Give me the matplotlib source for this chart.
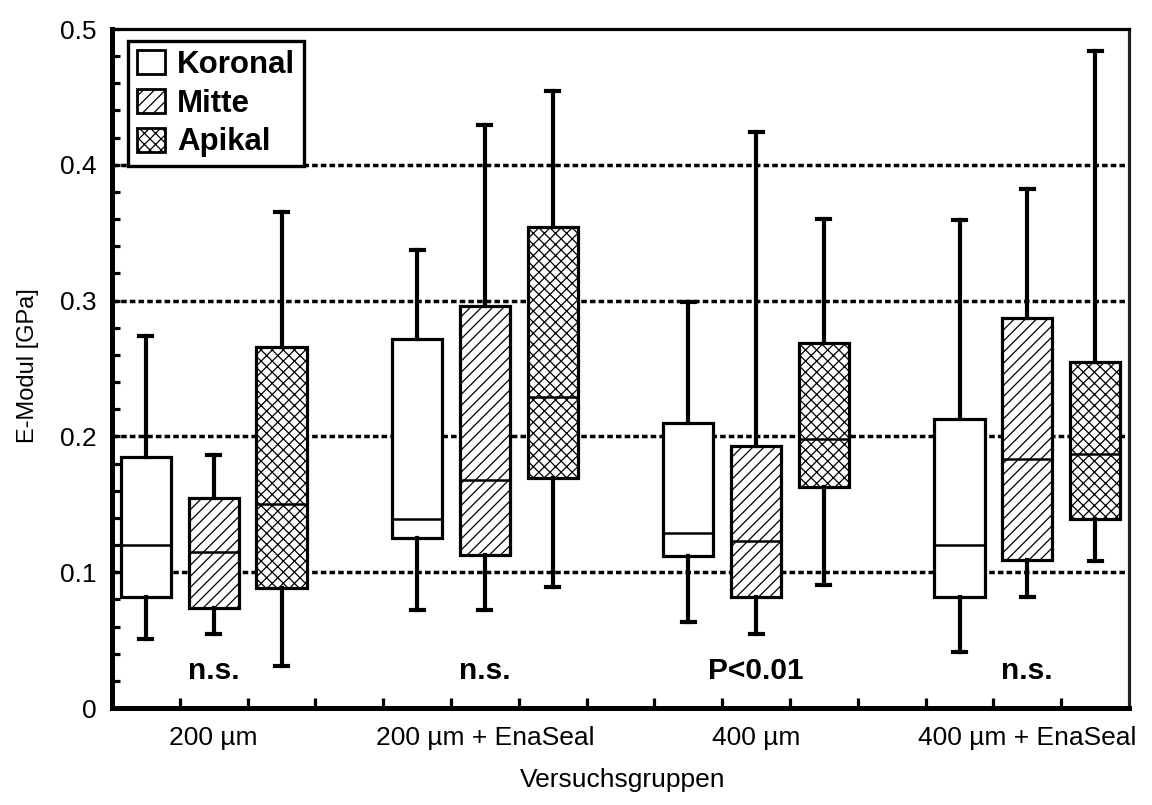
import matplotlib
matplotlib.use("Agg")
import matplotlib.pyplot as plt
from matplotlib.patches import Patch
from matplotlib.ticker import FixedLocator, MultipleLocator

plt.rcParams['font.family'] = ['Liberation Sans', 'DejaVu Sans']
plt.rcParams['hatch.linewidth'] = 0.9

# ---- data ----
groups = ["200 µm", "200 µm + EnaSeal", "400 µm", "400 µm + EnaSeal"]
regions = ["Koronal", "Mitte", "Apikal"]
significance = ["n.s.", "n.s.", "P<0.01", "n.s."]

koronal_whishi = [0.274, 0.337, 0.299, 0.359]
koronal_q3 = [0.185, 0.2715, 0.210, 0.213]
koronal_med = [0.120, 0.139, 0.129, 0.120]
koronal_q1 = [0.082, 0.125, 0.112, 0.082]
koronal_whislo = [0.051, 0.072, 0.0635, 0.041]

mitte_whishi = [0.186, 0.429, 0.424, 0.382]
mitte_q3 = [0.155, 0.296, 0.193, 0.2875]
mitte_med = [0.115, 0.168, 0.123, 0.183]
mitte_q1 = [0.0734, 0.113, 0.082, 0.109]
mitte_whislo = [0.0545, 0.072, 0.0546, 0.0817]

apikal_whishi = [0.3655, 0.454, 0.360, 0.484]
apikal_q3 = [0.266, 0.3545, 0.269, 0.255]
apikal_med = [0.1505, 0.229, 0.198, 0.187]
apikal_q1 = [0.0887, 0.169, 0.163, 0.139]
apikal_whislo = [0.031, 0.0888, 0.0906, 0.1085]

y_ticks = [0, 0.1, 0.2, 0.3, 0.4, 0.5]
y_ticklabels = ["0", "0.1", "0.2", "0.3", "0.4", "0.5"]
grid_levels = [0.1, 0.2, 0.3, 0.4]

# ---- styling ----
hatches = ["", "///", "xxx"]
series = [
    (koronal_whislo, koronal_q1, koronal_med, koronal_q3, koronal_whishi),
    (mitte_whislo, mitte_q1, mitte_med, mitte_q3, mitte_whishi),
    (apikal_whislo, apikal_q1, apikal_med, apikal_q3, apikal_whishi),
]

fig = plt.figure(figsize=(11.52, 8.05), dpi=100)
ax = fig.add_axes([112/1152, 1 - 708/805, (1129 - 112)/1152, (708 - 29)/805])

ax.set_xlim(0, 15)
ax.set_ylim(0, 0.5)

# grid lines (dotted, behind boxes)
for g in grid_levels:
    ax.axhline(g, color='black', lw=2.5, linestyle=(0, (1.6, 0.9)), zorder=0.5)

group_centers = [1.5 + 4 * i for i in range(len(groups))]

for r, (wlo, q1, med, q3, whi) in enumerate(series):
    stats = []
    for i in range(len(groups)):
        stats.append(dict(whislo=wlo[i], q1=q1[i], med=med[i], q3=q3[i],
                          whishi=whi[i], fliers=[], label=""))
    positions = [c + (r - 1) for c in group_centers]
    bp = ax.bxp(stats, positions=positions, widths=0.74, capwidths=0.19,
                patch_artist=True, showfliers=False, manage_ticks=False,
                boxprops=dict(facecolor='white', edgecolor='black', linewidth=2.3,
                              hatch=hatches[r]),
                medianprops=dict(color='black', linewidth=1.8),
                whiskerprops=dict(color='black', linewidth=3.0),
                capprops=dict(color='black', linewidth=3.0))
    for b in bp['boxes']:
        b.set_zorder(2)

# significance annotations
for c, s in zip(group_centers, significance):
    ax.text(c, 0.027, s, ha='center', va='center', fontsize=21.5, fontweight='bold')

# ticks
ax.xaxis.set_major_locator(FixedLocator(group_centers))
ax.set_xticklabels(groups, fontsize=19)
ax.xaxis.set_minor_locator(FixedLocator(list(range(1, 15))))
ax.tick_params(axis='x', which='major', length=0, pad=13)
ax.tick_params(axis='x', which='minor', direction='in', length=7, width=2.3, color='black')

ax.yaxis.set_major_locator(FixedLocator(y_ticks))
ax.set_yticklabels(y_ticklabels, fontsize=19)
ax.yaxis.set_minor_locator(MultipleLocator(0.02))
ax.tick_params(axis='y', which='both', direction='in', length=5.5, width=2.3, color='black', pad=11)

# spines
ax.spines['left'].set_linewidth(3.6)
ax.spines['bottom'].set_linewidth(3.6)
ax.spines['top'].set_linewidth(2.3)
ax.spines['right'].set_linewidth(2.3)
ax.spines['right'].set_color('#222222')

# legend
handles = [Patch(facecolor='white', edgecolor='black', linewidth=2.0, hatch=h) for h in hatches]
leg = ax.legend(handles, regions, loc='upper left', bbox_to_anchor=(0.0157, 0.982),
                borderaxespad=0, fancybox=False, framealpha=1, edgecolor='black',
                prop=dict(weight='bold', size=22.5), handlelength=0.9, handleheight=0.8,
                handletextpad=0.4, labelspacing=0.28, borderpad=0.28)
leg.get_frame().set_linewidth(2.4)
leg.set_zorder(5)

# axis labels
fig.text(28/1152, 1 - 366/805, "E-Modul [GPa]", rotation=90, ha='center', va='center', fontsize=17)
fig.text(623/1152, 1 - 780/805, "Versuchsgruppen", ha='center', va='center', fontsize=19)

fig.savefig("out.png", dpi=100)
